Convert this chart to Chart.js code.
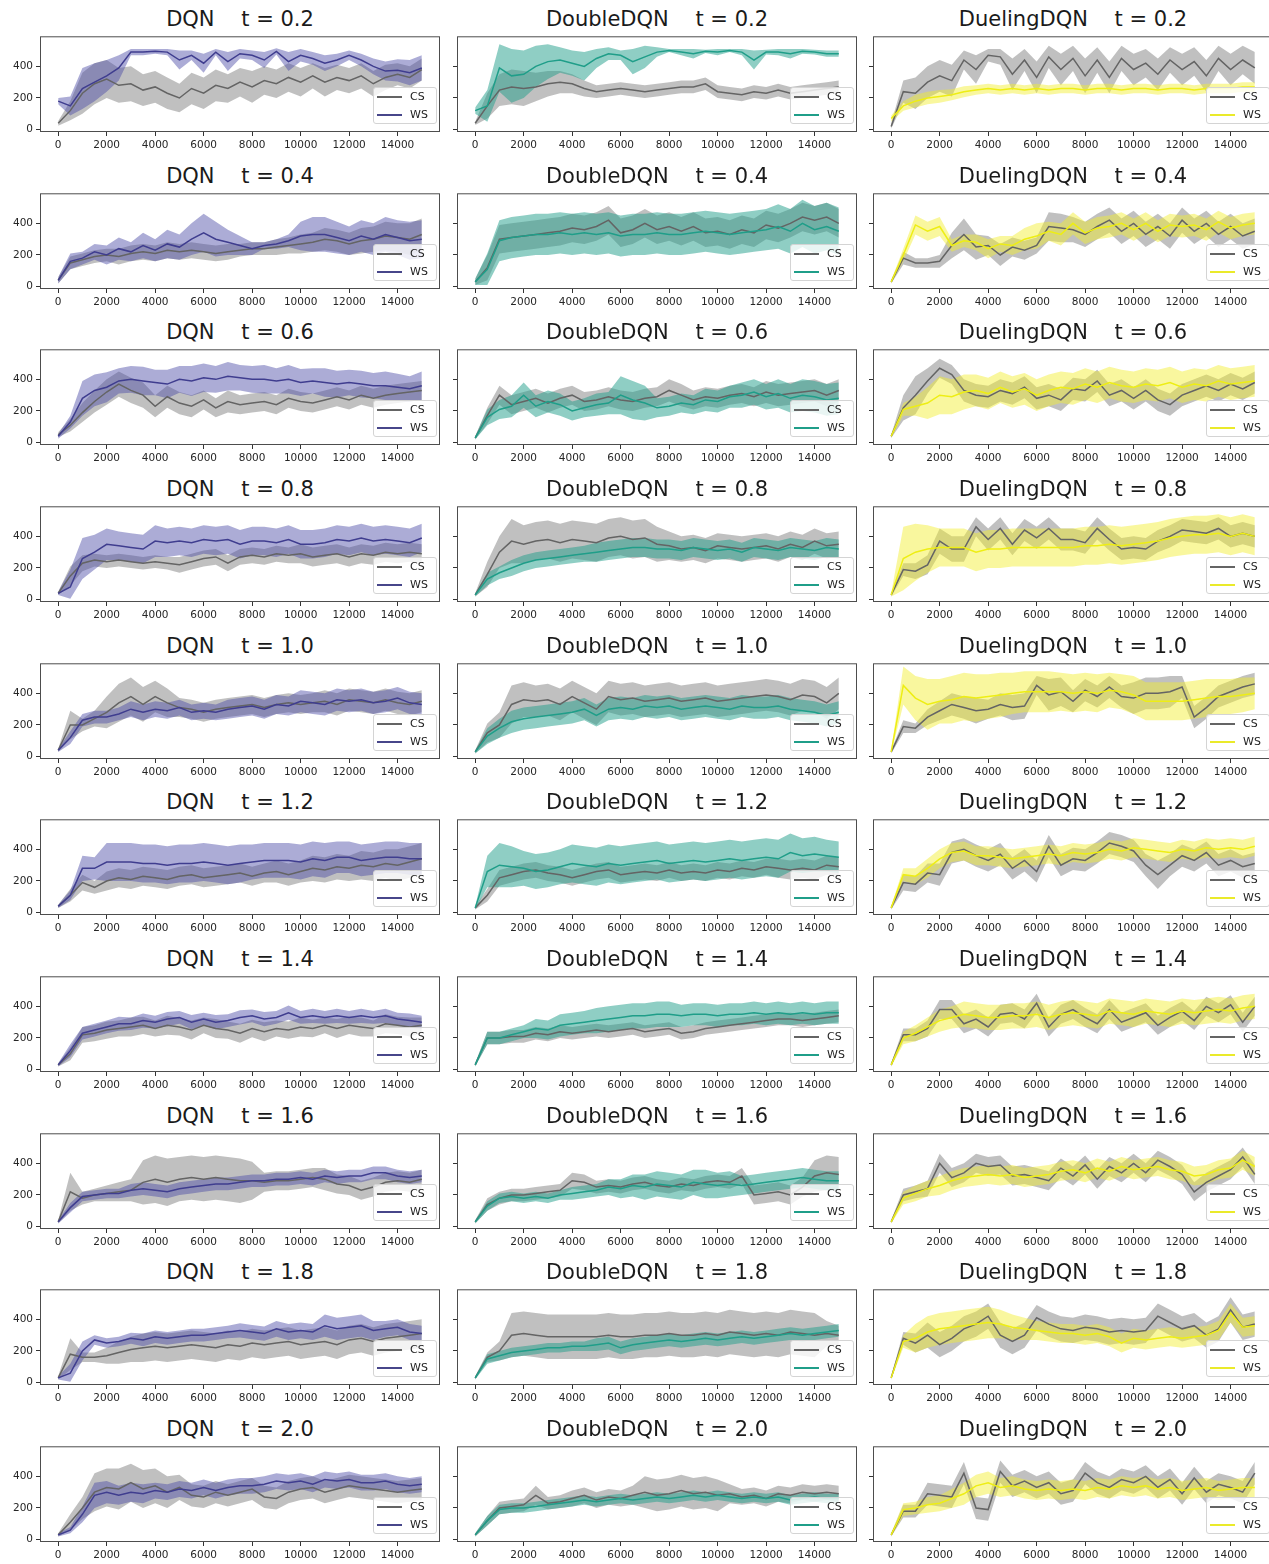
<!DOCTYPE html>
<html>
<head>
<meta charset="utf-8">
<script src="https://cdn.jsdelivr.net/npm/chart.js@4.4.0/dist/chart.umd.min.js"></script>
<style>
html, body { margin: 0; padding: 0; background: #fff; }
body { width: 1269px; height: 1564px; overflow: hidden; position: relative; font-family: "DejaVu Sans", sans-serif; }
canvas { position: absolute; }
.ttl { position: absolute; width: 400px; text-align: center; font-size: 21px; line-height: 24px; color: #1a1a1a; white-space: pre; }
.lgd { position: absolute; width: 62px; height: 35px; border: 1px solid #d4d4d4; border-radius: 3px; background: rgba(255,255,255,0.8); font-size: 11px; color: #222; }
.lgd div { position: absolute; left: 2px; height: 14px; line-height: 14px; white-space: nowrap; }
.lgd span { position: absolute; left: 1px; top: 6px; width: 25px; height: 2px; }
.lgd b { position: absolute; left: 34px; top: 0; font-weight: normal; }
</style>
</head>
<body>
<script>
// training steps of every curve, one point each 500 steps
var steps = [0,500,1000,1500,2000,2500,3000,3500,4000,4500,5000,5500,6000,6500,7000,7500,8000,8500,9000,9500,10000,10500,11000,11500,12000,12500,13000,13500,14000,14500,15000];
var xTicks = [0,2000,4000,6000,8000,10000,12000,14000];
var yTicks = [0,200,400];
var algos = ['DQN', 'DoubleDQN', 'DuelingDQN'];
var temps = ['0.2','0.4','0.6','0.8','1.0','1.2','1.4','1.6','1.8','2.0'];

// mean reward (one row per t) and half width of the shaded band
var dqnCs = [
  [40,120,230,290,320,280,290,250,270,230,200,260,230,280,260,300,270,310,290,330,300,340,300,330,310,340,290,330,350,330,380],
  [40,150,170,190,200,190,210,220,210,230,220,230,220,210,220,230,240,240,250,260,270,280,300,290,270,290,300,320,310,300,330],
  [50,110,190,260,320,370,330,300,230,290,250,230,270,220,260,240,250,260,240,280,260,250,270,290,270,300,280,300,310,320,330],
  [40,150,230,250,240,250,240,230,240,230,220,240,260,270,230,270,280,270,290,280,290,270,280,290,270,290,280,300,290,300,290],
  [40,200,200,240,280,340,380,330,380,340,310,300,280,300,310,320,330,310,330,340,330,340,350,330,360,350,340,360,340,330,350],
  [40,110,190,160,200,220,210,230,220,210,230,240,220,230,240,250,230,250,260,240,260,280,270,290,280,300,290,310,300,320,340],
  [30,100,220,230,250,260,270,280,260,280,270,250,280,260,250,230,260,240,260,250,270,260,280,260,280,270,260,290,280,270,280],
  [30,220,180,200,210,220,230,280,300,280,300,310,300,310,300,290,290,280,290,290,300,310,300,270,260,230,250,280,290,280,300],
  [30,180,160,160,170,190,210,220,230,220,230,240,230,220,240,230,250,240,250,260,240,250,260,240,270,280,260,280,290,300,310],
  [30,110,200,300,330,320,360,320,340,300,330,280,270,300,280,300,320,270,260,300,320,330,300,320,340,330,320,310,300,310,320]
];
var dqnCsSd = [
  [15,60,130,130,120,110,110,100,100,100,90,100,100,100,90,90,100,90,90,90,90,80,90,80,80,80,80,80,70,70,70],
  [20,40,40,40,40,50,50,50,50,50,50,50,50,50,50,40,40,40,50,50,60,60,70,70,70,80,80,90,90,100,100],
  [15,40,60,70,80,80,80,80,70,70,70,70,60,60,70,60,60,60,60,60,60,60,60,60,60,60,60,60,60,60,60],
  [10,60,50,40,40,40,40,40,40,40,50,50,50,50,50,50,50,50,50,50,60,60,60,60,60,60,60,60,60,60,60],
  [10,90,40,50,100,120,120,110,100,90,60,60,60,60,60,60,60,60,60,60,60,60,70,70,70,70,70,70,70,70,70],
  [10,40,50,40,60,60,60,60,60,60,60,60,60,60,60,60,60,60,70,70,70,80,80,80,80,90,90,90,100,100,100],
  [10,40,50,50,55,50,60,55,50,60,55,60,50,60,55,60,55,60,50,55,60,55,50,60,55,60,50,60,55,60,50],
  [10,120,40,40,50,60,70,140,150,150,140,140,140,140,140,140,120,60,60,60,60,60,70,60,60,60,60,60,60,60,60],
  [10,100,30,30,50,70,80,90,90,90,90,90,90,90,90,90,90,90,90,90,90,90,90,90,90,90,90,90,90,90,90],
  [10,50,70,120,120,130,120,120,110,100,80,70,70,70,70,70,70,70,70,70,70,70,70,70,70,70,70,70,70,70,70]
];
var dqnWs = [
  [180,150,260,300,340,390,490,490,495,490,440,470,420,490,430,480,470,440,495,430,470,450,420,440,470,440,400,370,375,360,390],
  [40,160,180,220,200,240,220,260,230,270,250,300,340,300,280,260,240,260,270,290,320,330,330,310,290,320,300,330,310,290,300],
  [40,130,280,330,350,390,400,390,380,370,400,390,410,400,420,410,400,400,390,400,380,390,380,370,380,370,360,360,350,340,360],
  [40,80,260,300,350,340,330,320,370,360,370,360,380,370,380,350,370,370,360,380,350,350,360,380,370,390,370,380,370,360,390],
  [40,120,230,250,250,270,300,280,300,290,310,280,290,280,300,310,320,300,330,320,350,340,330,360,350,360,340,350,370,340,330],
  [40,110,280,280,320,320,320,310,310,300,310,310,320,310,300,310,320,330,330,330,320,340,330,350,350,330,340,350,350,340,340],
  [30,120,230,250,270,290,290,310,300,320,330,300,320,300,310,330,340,320,330,360,330,340,330,340,330,340,330,340,320,310,300],
  [30,120,190,200,210,210,230,240,230,220,240,250,260,270,270,280,290,290,300,300,310,300,320,310,320,320,340,340,320,310,320],
  [30,60,200,270,250,260,280,270,290,280,290,300,300,310,320,330,320,310,340,320,330,320,360,340,350,360,330,340,350,320,310],
  [30,60,160,280,300,280,300,290,310,300,320,310,330,310,330,340,340,350,370,360,370,350,380,370,380,360,360,370,350,340,350]
];
var dqnWsSd = [
  [20,60,130,120,100,80,20,20,15,20,60,30,60,20,60,30,30,50,20,60,40,40,50,40,30,40,50,60,70,80,80],
  [20,50,40,50,60,70,60,80,70,90,80,100,120,110,80,60,40,20,30,40,90,110,110,100,90,100,100,110,110,120,120],
  [15,40,110,100,95,80,85,90,80,90,85,95,90,85,90,80,85,90,80,90,85,80,90,85,80,85,80,90,85,80,90],
  [10,110,130,110,100,90,90,90,100,90,90,90,90,90,90,90,90,90,90,90,90,90,90,90,90,90,90,90,90,90,90],
  [10,40,40,40,40,40,50,50,50,50,50,50,50,50,60,60,60,60,60,60,70,70,70,70,70,70,70,70,70,70,70],
  [10,30,80,70,120,120,120,120,120,120,120,120,120,120,120,120,110,110,110,110,110,110,110,100,100,100,100,100,100,100,100],
  [10,40,40,40,40,45,40,45,40,45,40,45,40,45,40,45,40,45,40,45,40,45,40,45,40,45,40,45,40,45,40],
  [10,30,30,30,30,30,40,40,40,40,40,40,40,40,40,40,40,40,40,40,40,40,40,40,40,40,40,40,40,40,40],
  [10,60,60,30,30,30,35,40,40,40,40,40,40,40,40,45,45,45,50,50,50,50,70,70,70,70,60,50,50,50,50],
  [10,20,50,80,70,60,60,60,50,50,50,50,50,50,50,50,50,50,50,50,50,50,50,50,50,50,50,50,50,50,50]
];

var ddqnCs = [
  [40,150,250,270,260,270,290,300,290,260,240,250,260,250,240,250,260,270,270,290,240,230,220,240,230,250,230,240,250,260,270],
  [30,120,300,310,320,330,340,350,370,360,380,420,340,360,400,360,380,350,380,340,350,330,360,340,390,370,400,440,420,440,400],
  [30,170,300,240,260,280,250,280,300,260,270,290,270,260,280,290,330,300,270,290,280,300,310,290,320,300,310,320,330,300,330],
  [30,160,300,370,350,370,380,360,380,370,360,390,400,380,390,350,340,320,330,310,340,330,320,330,340,320,350,330,370,340,350],
  [30,150,200,330,360,350,360,330,380,340,300,380,360,370,350,360,370,350,360,370,350,360,370,380,390,380,360,390,380,340,400],
  [30,110,220,240,260,270,250,240,220,240,260,270,240,250,260,250,270,250,260,250,270,260,280,270,290,280,270,280,270,300,290],
  [30,200,200,210,210,230,220,240,230,240,250,240,250,260,240,250,260,230,240,260,270,280,290,300,310,320,320,310,320,330,340],
  [30,140,180,200,200,210,220,230,290,280,250,260,250,270,280,260,250,270,260,280,290,280,320,200,210,220,200,250,320,340,330],
  [30,160,200,300,310,300,290,290,290,290,290,300,290,290,300,300,310,300,300,310,300,320,310,300,310,300,320,310,300,310,300],
  [30,120,200,210,220,280,230,240,260,280,250,270,260,280,300,280,290,310,290,300,280,290,270,280,260,290,280,300,290,300,290]
];
var ddqnCsSd = [
  [10,80,100,110,110,90,80,70,60,50,40,40,40,40,40,40,40,40,40,40,40,40,40,40,40,40,40,40,40,40,40],
  [20,80,90,90,90,90,90,90,90,90,90,90,90,90,90,90,90,90,90,90,90,90,90,90,90,90,90,90,90,90,90],
  [10,50,60,60,60,60,60,60,60,60,60,60,60,60,60,60,70,70,60,60,60,60,60,60,70,70,70,70,70,70,70],
  [10,80,100,140,120,120,120,120,120,120,120,120,120,120,120,110,90,80,80,80,80,80,80,80,80,80,80,80,80,80,80],
  [10,60,80,120,110,100,100,100,100,100,100,100,100,100,100,100,100,100,100,100,100,100,100,100,100,100,100,100,100,100,100],
  [10,40,50,50,50,50,50,50,50,50,50,50,50,50,50,50,50,50,50,50,50,50,50,50,50,60,60,60,60,60,60],
  [10,40,40,40,40,40,40,40,40,40,40,40,40,40,40,40,40,40,40,40,40,40,40,40,40,40,40,40,40,40,40],
  [10,40,40,40,40,40,40,40,50,50,40,40,40,40,40,40,40,40,40,40,40,40,50,60,60,60,60,60,100,110,110],
  [10,30,60,140,140,140,140,140,140,140,140,140,140,140,140,140,140,140,140,140,140,140,140,140,140,140,140,140,140,80,60],
  [10,30,40,40,40,60,40,40,50,50,50,50,50,60,100,100,100,100,100,100,100,60,50,50,50,50,50,50,50,50,50]
];
var ddqnWs = [
  [120,150,390,340,350,400,430,440,420,400,450,480,470,430,460,490,500,490,480,495,490,500,490,440,490,490,480,495,490,480,480],
  [30,110,290,310,320,330,330,340,330,340,330,340,320,330,330,340,330,330,340,350,340,330,340,350,360,380,350,400,360,380,350],
  [30,160,210,230,300,230,260,240,200,220,240,250,300,270,250,220,230,250,240,270,260,290,300,320,290,310,280,300,290,270,280],
  [30,130,170,200,230,250,260,270,280,290,300,310,320,330,330,320,320,310,330,320,310,320,300,330,320,310,330,320,310,330,320],
  [30,130,180,220,240,250,260,270,280,300,260,300,310,300,320,310,320,300,310,320,310,300,320,310,310,320,300,290,280,260,280],
  [30,260,300,290,280,260,270,290,310,300,290,310,300,310,320,330,310,320,330,320,330,340,330,340,350,340,380,360,370,360,350],
  [30,200,200,220,240,260,250,280,290,300,310,320,330,340,340,350,350,340,350,350,340,350,350,360,350,360,350,360,350,360,360],
  [30,130,180,190,180,190,180,200,210,220,230,250,240,260,250,270,260,250,280,270,260,270,260,270,280,290,300,310,300,290,290],
  [30,150,170,190,200,210,220,220,230,230,240,250,220,240,250,260,270,260,270,280,270,280,290,280,290,300,310,300,310,320,330],
  [30,120,190,200,200,210,220,230,240,250,240,250,260,250,260,270,260,270,280,270,280,270,260,270,260,270,250,260,270,260,260]
];
var ddqnWsSd = [
  [20,100,150,170,150,130,110,80,80,90,60,40,30,80,70,30,10,20,30,10,20,10,20,60,15,20,30,15,15,20,20],
  [20,100,130,130,130,130,130,130,130,130,130,130,130,130,130,130,130,130,130,130,130,130,130,130,130,140,140,150,150,150,150],
  [10,50,60,70,80,70,70,70,60,60,70,70,120,120,110,60,60,60,60,70,70,70,80,80,80,90,90,100,100,100,100],
  [10,40,40,50,50,50,50,50,50,50,60,60,60,60,60,60,60,60,60,60,60,60,60,60,60,60,60,60,60,60,60],
  [10,50,60,70,70,70,70,70,70,70,70,70,70,70,70,70,70,70,70,70,70,70,70,70,70,70,70,70,70,70,70],
  [10,100,140,130,110,110,110,110,120,120,120,120,120,120,120,120,120,120,120,120,120,120,120,120,120,120,120,110,110,100,100],
  [10,40,40,40,40,60,60,70,70,70,80,80,80,80,80,80,80,70,70,70,70,70,70,70,70,70,70,70,70,70,70],
  [10,30,30,30,30,30,30,30,40,40,40,50,60,70,80,80,80,80,80,90,80,80,60,60,60,60,60,60,60,60,60],
  [10,30,30,30,30,30,30,30,30,30,40,40,40,40,40,40,40,40,40,40,40,40,40,40,40,40,40,40,40,40,40],
  [10,30,30,30,30,30,30,30,30,30,30,30,30,30,30,30,30,30,30,30,30,30,30,30,30,30,30,30,30,30,30]
];

var duelCs = [
  [20,240,230,300,340,310,440,380,470,460,350,440,330,460,380,450,340,440,330,450,380,420,350,440,380,430,340,450,380,440,390],
  [30,180,150,150,160,260,330,250,260,200,250,230,260,380,370,360,330,380,420,350,400,330,380,320,420,350,400,330,380,320,350],
  [40,220,300,390,470,430,330,300,290,330,310,350,280,300,270,340,330,390,300,330,280,330,270,240,300,330,360,330,370,340,380],
  [30,190,180,220,370,320,320,460,380,450,350,440,390,450,380,380,360,450,380,320,330,320,370,400,440,430,420,450,400,420,400],
  [30,190,180,250,290,330,310,290,300,330,310,320,450,390,410,350,420,380,440,380,370,400,400,410,440,250,310,380,410,440,460],
  [30,190,180,250,240,380,400,360,330,370,280,330,260,420,300,340,330,380,440,420,390,300,240,300,360,330,380,300,330,290,310],
  [30,220,220,260,380,380,290,320,270,350,360,320,420,270,350,380,330,290,380,300,330,360,280,330,370,310,400,360,410,300,400],
  [30,200,220,240,400,310,340,400,380,390,320,330,310,290,370,320,390,300,380,340,400,340,420,380,330,220,280,320,360,440,330],
  [30,280,250,300,240,280,340,370,420,300,260,300,410,370,340,330,350,340,320,330,320,330,420,380,340,360,300,340,460,350,370],
  [30,180,180,290,280,270,420,200,190,430,340,370,330,360,290,310,420,360,330,380,360,400,330,380,290,390,300,350,330,300,420]
];
var duelCsSd = [
  [20,70,100,100,100,100,60,90,40,50,100,70,100,70,100,80,110,80,100,80,100,90,100,80,100,90,100,80,100,90,100],
  [10,40,30,30,40,80,100,80,60,70,60,60,50,90,90,80,80,80,80,80,80,80,80,80,80,80,80,80,80,80,80],
  [10,80,120,80,60,60,70,70,70,70,70,70,70,70,70,70,70,70,70,70,70,70,70,70,70,70,70,70,70,70,70],
  [10,40,50,60,80,80,80,60,70,70,70,70,70,70,70,70,70,70,70,70,70,70,70,70,70,70,70,70,70,70,70],
  [10,40,30,50,60,70,70,80,60,70,80,80,60,100,90,70,70,70,70,70,100,100,100,100,70,70,70,70,70,70,70],
  [10,50,50,60,70,70,70,70,70,70,70,70,70,70,70,70,70,70,70,70,70,70,90,70,70,70,70,70,70,70,70],
  [10,40,40,50,60,60,60,60,60,60,60,60,60,60,60,60,60,60,60,60,60,60,60,60,60,60,60,60,60,60,60],
  [10,40,40,50,60,60,60,60,60,60,60,60,60,60,60,60,60,60,60,60,60,60,60,60,60,60,60,60,60,60,60],
  [10,40,60,80,80,80,80,80,80,80,80,80,80,80,80,80,80,80,80,80,80,80,80,80,80,80,80,80,80,80,80],
  [10,40,40,70,70,70,70,70,70,70,70,70,70,70,70,70,70,70,70,70,70,70,70,70,70,70,70,70,70,70,70]
];
var duelWs = [
  [70,150,180,200,210,220,240,250,260,250,260,250,260,250,260,260,250,260,260,250,260,260,250,260,260,250,260,260,260,270,270],
  [30,200,390,350,380,260,290,280,240,270,260,300,320,350,330,400,340,370,380,400,360,400,350,390,380,390,360,410,370,390,400],
  [40,210,230,250,300,290,320,330,310,350,320,340,300,330,350,340,370,350,380,360,350,370,360,380,350,370,360,390,370,380,390],
  [30,260,300,320,330,330,330,300,320,320,330,330,330,330,330,330,340,340,350,340,350,360,370,390,400,410,410,420,400,420,400],
  [30,450,370,330,350,360,380,370,380,390,400,410,410,410,410,400,410,400,420,410,390,350,350,350,350,360,370,380,380,390,400],
  [30,240,230,280,340,380,390,360,360,350,340,350,360,370,360,380,370,380,400,390,410,400,390,380,400,390,410,400,410,400,420],
  [30,200,230,270,310,330,350,340,330,330,340,340,350,330,350,360,350,340,370,360,350,370,360,350,370,360,370,380,370,390,400],
  [30,180,210,240,260,290,310,320,330,320,330,310,320,330,350,360,340,370,350,380,360,370,380,360,350,320,330,360,370,420,380],
  [30,260,280,320,340,350,360,370,380,370,350,340,330,320,310,310,300,310,290,250,280,270,280,290,280,290,300,330,440,350,360],
  [30,190,200,220,230,260,290,340,360,330,340,320,310,320,310,320,310,330,320,340,330,340,320,330,310,320,330,310,320,330,330]
];
var duelWsSd = [
  [20,30,40,40,40,35,35,30,30,30,30,30,30,30,30,30,30,30,30,30,30,30,30,30,30,30,30,30,30,30,30],
  [10,40,60,60,60,40,40,50,60,50,60,70,80,60,70,70,70,70,70,70,70,70,70,70,70,70,70,70,70,70,70],
  [10,40,60,100,120,110,110,100,100,100,100,100,100,100,100,100,100,100,100,100,100,100,100,100,100,100,100,100,100,100,100],
  [10,200,180,150,120,120,120,120,120,120,120,120,120,120,120,120,120,120,120,120,120,120,120,120,120,120,120,120,120,120,120],
  [10,120,140,160,140,150,150,150,140,140,130,130,130,130,120,120,120,120,110,110,120,120,120,120,120,120,120,110,110,110,100],
  [10,40,50,60,60,60,60,60,60,60,60,60,60,60,60,60,60,60,60,60,60,60,60,60,60,60,60,60,60,60,60],
  [10,40,50,60,70,70,80,80,80,80,80,80,80,80,80,80,80,80,80,80,80,80,80,80,80,80,80,80,80,80,80],
  [10,40,50,50,60,60,60,60,60,60,60,60,60,60,60,60,60,60,60,60,60,60,60,60,60,60,60,60,60,60,60],
  [10,40,90,100,100,100,100,100,100,90,80,70,60,60,60,60,60,60,60,60,60,60,60,60,60,60,60,60,60,60,60],
  [10,40,40,50,50,60,70,70,70,60,60,60,60,60,60,60,60,60,60,60,60,60,60,60,60,60,60,60,60,60,60]
];

var csByAlgo = [[dqnCs, dqnCsSd], [ddqnCs, ddqnCsSd], [duelCs, duelCsSd]];
var wsByAlgo = [[dqnWs, dqnWsSd], [ddqnWs, ddqnWsSd], [duelWs, duelWsSd]];

// page layout
var colLeft = [40, 457, 873];
var firstTop = 33, rowPitch = 156.67, plotW = 400, plotH = 99;
var csLine = '#646464', csBand = 'rgba(105,105,105,0.42)';
var wsLine = ['#3f3d8f', '#1f9e89', '#eeee14'];
var wsBand = ['rgba(72,70,165,0.45)', 'rgba(31,158,137,0.5)', 'rgba(242,238,40,0.45)'];
var legendWs = ['#47468a', '#1f9e89', '#eaea2a'];

var frame = {
  id: 'frame',
  afterDraw: function(chart) {
    var a = chart.chartArea, ctx = chart.ctx;
    ctx.save();
    ctx.strokeStyle = '#4d4d4d';
    ctx.lineWidth = 1;
    ctx.strokeRect(a.left + 0.5, a.top + 0.5, a.right - a.left - 1, a.bottom - a.top - 1);
    ctx.restore();
  }
};

function pts(vals) {
  return steps.map(function(x, i) { return {x: x, y: vals[i]}; });
}
function edge(mean, sd, sign) {
  return steps.map(function(x, i) { return {x: x, y: Math.max(5, mean[i] + sign * sd[i])}; });
}

function makePanel(c, r) {
  var left = colLeft[c];
  var top = Math.round(firstTop + r * rowPitch);
  var cs = csByAlgo[c], ws = wsByAlgo[c];

  var t = document.createElement('div');
  t.className = 'ttl';
  t.style.left = left + 'px';
  t.style.top = Math.round(19 + r * rowPitch - 12) + 'px';
  t.textContent = algos[c] + '    t = ' + temps[r];
  document.body.appendChild(t);

  var cv = document.createElement('canvas');
  cv.width = 446; cv.height = 129;
  cv.style.left = (left - 40) + 'px';
  cv.style.top = (top - 6) + 'px';
  document.body.appendChild(cv);

  var none = 'rgba(0,0,0,0)';
  new Chart(cv, {
    type: 'line',
    data: {
      datasets: [
        {data: edge(cs[0][r], cs[1][r], -1), borderColor: none, borderWidth: 0, pointRadius: 0, fill: false, order: 6},
        {data: edge(cs[0][r], cs[1][r], 1), borderColor: none, borderWidth: 0, pointRadius: 0, fill: '-1', backgroundColor: csBand, order: 5},
        {data: edge(ws[0][r], ws[1][r], -1), borderColor: none, borderWidth: 0, pointRadius: 0, fill: false, order: 4},
        {data: edge(ws[0][r], ws[1][r], 1), borderColor: none, borderWidth: 0, pointRadius: 0, fill: '-1', backgroundColor: wsBand[c], order: 3},
        {data: pts(cs[0][r]), borderColor: csLine, borderWidth: 1.5, pointRadius: 0, fill: false, order: 2},
        {data: pts(ws[0][r]), borderColor: wsLine[c], borderWidth: 1.5, pointRadius: 0, fill: false, order: 1}
      ]
    },
    options: {
      responsive: false,
      animation: false,
      devicePixelRatio: 1,
      events: [],
      layout: {padding: {top: 6, right: 6, left: 0, bottom: 0}},
      elements: {line: {tension: 0}},
      plugins: {legend: {display: false}, tooltip: {enabled: false}},
      scales: {
        x: {
          type: 'linear', min: -750, max: 15750,
          afterBuildTicks: function(s) { s.ticks = xTicks.map(function(v) { return {value: v}; }); },
          afterFit: function(s) { s.height = 24; },
          grid: {drawOnChartArea: false, drawTicks: true, tickLength: 4, tickColor: '#333'},
          border: {display: false},
          ticks: {
            font: {family: 'DejaVu Sans', size: 10.5}, color: '#262626', padding: 3, maxRotation: 0, autoSkip: false,
            callback: function(v) { return String(v); }
          }
        },
        y: {
          type: 'linear', min: -15, max: 590,
          afterBuildTicks: function(s) { s.ticks = yTicks.map(function(v) { return {value: v}; }); },
          afterFit: function(s) { s.width = 40; },
          grid: {drawOnChartArea: false, drawTicks: true, tickLength: 4, tickColor: '#333'},
          border: {display: false},
          ticks: {
            font: {family: 'DejaVu Sans', size: 10.5}, color: '#262626', padding: 3,
            callback: function(v) { return c === 0 ? String(v) : ''; }
          }
        }
      }
    },
    plugins: [frame]
  });

  var lg = document.createElement('div');
  lg.className = 'lgd';
  lg.style.left = Math.round(left + plotW - 3.5 - 64) + 'px';
  lg.style.top = (top + plotH - 8 - 37) + 'px';
  lg.innerHTML = '<div style="top:2px"><span style="background:' + csLine + '"></span><b>CS</b></div>' +
                 '<div style="top:20px"><span style="background:' + legendWs[c] + '"></span><b>WS</b></div>';
  document.body.appendChild(lg);
}

for (var r = 0; r < temps.length; r++) {
  for (var c = 0; c < algos.length; c++) {
    makePanel(c, r);
  }
}
</script>
</body>
</html>
